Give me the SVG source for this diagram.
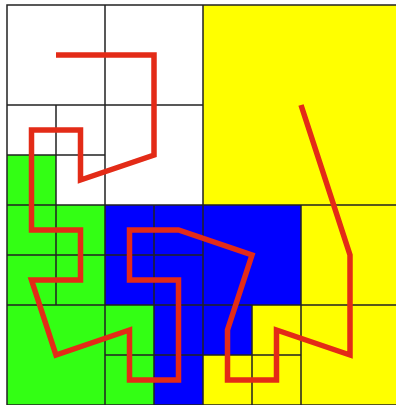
<svg xmlns="http://www.w3.org/2000/svg" width="396" height="405" viewBox="0 0 396 405">
<style>
.g{fill:#33ff14}
.b{fill:#0000ff}
.y{fill:#ffff00}
.ln{stroke:#222;stroke-width:1.5;fill:none}
.curve{stroke:#e32b17;stroke-width:5.5;fill:none;stroke-linejoin:miter;stroke-linecap:butt}
</style>
<rect x="0" y="0" width="396" height="405" fill="#ffffff"/>
<g id="cells">
<rect class="g" x="7" y="155" width="49" height="50"/>
<rect class="g" x="7" y="205" width="98" height="200"/>
<rect class="g" x="105" y="305" width="49" height="100"/>
<rect class="b" x="105" y="205" width="98" height="100"/>
<rect class="b" x="154" y="305" width="49" height="100"/>
<rect class="b" x="203" y="205" width="98" height="100"/>
<rect class="b" x="203" y="305" width="49" height="50"/>
<rect class="y" x="203" y="5" width="196" height="200"/>
<rect class="y" x="301" y="205" width="98" height="200"/>
<rect class="y" x="252" y="305" width="49" height="50"/>
<rect class="y" x="203" y="355" width="98" height="50"/>
</g>
<g id="grid" class="ln">
<rect x="7" y="5" width="392" height="400"/>
<path d="M105 5V405M203 5V405M301 205V405M7 105H203M7 205H399M7 305H399M56 105V305M7 155H105M7 255H203M154 205V405M105 355H301M252 305V405"/>
</g>
<g id="curve">
<polyline class="curve" points="56,55 154,55 154,155 80.5,180 80.5,130 31.5,130 31.5,230 80.5,230 80.5,280 31.5,280 56,355 129.5,330 129.5,380 178.5,380 178.5,280 129.5,280 129.5,230 178.5,230 252,255 227.5,330 227.5,380 276.5,380 276.5,330 350,355 350,255 301,105"/>
</g>
</svg>
